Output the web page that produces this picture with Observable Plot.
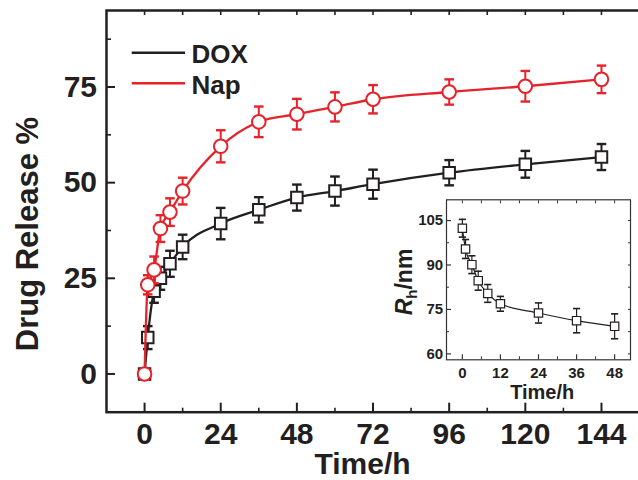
<!DOCTYPE html>
<html><head><meta charset="utf-8">
<script src="https://cdn.jsdelivr.net/npm/d3@7"></script>
<script src="https://cdn.jsdelivr.net/npm/@observablehq/plot@0.6"></script>
<style>
html,body{margin:0;padding:0;background:#fff;}
#wrap{position:relative;width:638px;height:480px;overflow:hidden;font-family:"Liberation Sans",Arial,Helvetica,sans-serif;}
#inset{position:absolute;left:380px;top:190px;}
#legend{position:absolute;left:0;top:0;}
</style></head><body>
<div id="wrap"><div id="main"></div><div id="inset"></div><svg id="legend" width="260" height="110"></svg></div>
<script>
// ---------- data ----------
const times = [0, 1, 3, 5, 8, 12, 24, 36, 48, 60, 72, 96, 120, 144];
const doxRelease = [0, 9.5, 21.6, 25.0, 28.8, 33.2, 39.3, 42.9, 46.1, 47.8, 49.6, 52.6, 54.8, 56.7];
const doxError   = [0, 3.0, 3.0, 3.0, 3.4, 3.2, 4.1, 3.3, 3.4, 3.8, 3.8, 3.3, 3.5, 3.4];
const napRelease = [0, 23.3, 27.2, 38.0, 42.3, 47.8, 59.5, 65.9, 67.9, 69.8, 71.8, 73.7, 75.2, 77.0];
const napError   = [0, 2.5, 3.5, 3.5, 3.6, 3.5, 4.2, 4.0, 4.0, 3.8, 3.7, 3.3, 4.0, 3.6];

const insetTimes  = [0, 1, 3, 5, 8, 12, 24, 36, 48];
const radius      = [102.4, 95.4, 90.1, 84.7, 80.4, 76.9, 73.8, 71.2, 69.3];
const radiusError = [3.0, 3.2, 3.0, 3.2, 3.0, 2.5, 3.4, 4.1, 4.2];

const seriesNames = ["DOX", "Nap"];
const seriesColors = ["#231f20", "#e5232a"];

const xTicks = [0, 24, 48, 72, 96, 120, 144];
const xMinorTicks = [12, 36, 60, 84, 108, 132];
const xTopTicks = [0, 12, 24, 36, 48, 60, 72, 84, 96, 108, 120, 132, 144];
const yTicks = [0, 25, 50, 75];
const yMinorTicks = [12.5, 37.5, 62.5, 87.5];

const insetXTicks = [0, 12, 24, 36, 48];
const insetXMinor = [6, 18, 30, 42];
const insetXTop = [0, 6, 12, 18, 24, 30, 36, 42, 48];
const insetYTicks = [60, 75, 90, 105];
const insetYMinor = [67.5, 82.5, 97.5];
const insetYRight = [60, 67.5, 75, 82.5, 90, 97.5, 105];

// ---------- tables ----------
const dox = times.map((t, i) => ({t, v: doxRelease[i], e: doxError[i]}));
const nap = times.map((t, i) => ({t, v: napRelease[i], e: napError[i]}));
const rh = insetTimes.map((t, i) => ({t, v: radius[i], e: radiusError[i]}));

const cap = {draw(ctx, size) { const w = Math.sqrt(size / Math.PI); ctx.moveTo(-w, 0); ctx.lineTo(w, 0); }};
const FONT = '"Liberation Sans", Arial, Helvetica, sans-serif';
const INK = "#231f20";

function seriesMarks(data, color, symbol, r, capR, lw, sw) {
  const withErr = data.filter(d => d.e > 0);
  return [
    Plot.line(data, {x: "t", y: "v", stroke: color, strokeWidth: lw, curve: "monotone-x"}),
    Plot.ruleX(withErr, {x: "t", y1: d => d.v - d.e, y2: d => d.v + d.e, stroke: color, strokeWidth: sw}),
    Plot.dot(withErr, {x: "t", y: d => d.v + d.e, symbol: cap, r: capR, fill: "none", stroke: color, strokeWidth: sw + 0.4}),
    Plot.dot(withErr, {x: "t", y: d => d.v - d.e, symbol: cap, r: capR, fill: "none", stroke: color, strokeWidth: sw + 0.4}),
    Plot.dot(data, {x: "t", y: "v", symbol, r, fill: "white", stroke: color, strokeWidth: sw})
  ];
}

// ---------- main chart ----------
const main = Plot.plot({
  width: 638, height: 480,
  marginLeft: 106, marginRight: -2, marginTop: 10, marginBottom: 68.3,
  x: {domain: [-12, 156.3], axis: null},
  y: {domain: [-10, 95], axis: null},
  style: {background: "white", fontFamily: FONT, fontWeight: "bold", color: INK, overflow: "visible"},
  marks: [
    Plot.frame({stroke: INK, strokeWidth: 2.5}),
    Plot.axisX({ticks: xTicks, anchor: "bottom", tickSize: 9, dy: -9, fill: "none", label: null, strokeWidth: 2, stroke: INK}),
    Plot.axisX({ticks: xMinorTicks, anchor: "bottom", tickSize: 4, dy: -4, fill: "none", label: null, strokeWidth: 1.6, stroke: INK}),
    Plot.axisX({ticks: xTopTicks, anchor: "top", tickSize: 4, dy: 4, fill: "none", label: null, strokeWidth: 1.6, stroke: INK}),
    Plot.axisY({ticks: yTicks, anchor: "left", tickSize: 9, dx: 9, fill: "none", label: null, strokeWidth: 2, stroke: INK}),
    Plot.axisY({ticks: yMinorTicks, anchor: "left", tickSize: 5, dx: 5, fill: "none", label: null, strokeWidth: 1.6, stroke: INK}),
    Plot.axisX({ticks: xTicks, anchor: "bottom", tickSize: 0, tickPadding: 10, label: null, fontSize: 30, fontWeight: "bold", fill: INK}),
    Plot.axisY({ticks: yTicks, anchor: "left", tickSize: 0, tickPadding: 9.5, label: null, fontSize: 30, fontWeight: "bold", fill: INK}),
    ...seriesMarks(dox, seriesColors[0], "square", 6.5, 4.8, 2.3, 2),
    ...seriesMarks(nap, seriesColors[1], "circle", 6.8, 4.8, 2.3, 2),
    Plot.text(["Time/h"], {text: d => d, frameAnchor: "bottom", textAnchor: "middle", dx: -11, dy: 52.5, lineAnchor: "middle", fontSize: 30, fontWeight: "bold", fill: INK}),
    Plot.text(["Drug Release %"], {text: d => d, frameAnchor: "left", textAnchor: "middle", rotate: -90, dx: -78, dy: 22.7, lineAnchor: "middle", fontSize: 31, fontWeight: "bold", fill: INK})
  ]
});
document.getElementById("main").appendChild(main);

// ---------- inset ----------
const inset = Plot.plot({
  width: 258, height: 220,
  marginLeft: 66, marginRight: 8, marginTop: 9.3, marginBottom: 50.7,
  x: {domain: [-5, 53], axis: null},
  y: {domain: [58, 112], axis: null},
  style: {background: "transparent", fontFamily: FONT, fontWeight: "bold", color: INK, overflow: "visible"},
  marks: [
    Plot.frame({fill: "white", stroke: "#333", strokeWidth: 1.2}),
    Plot.axisX({ticks: insetXTicks, anchor: "bottom", tickSize: 5, dy: -5, fill: "none", label: null, strokeWidth: 1.2, stroke: "#333"}),
    Plot.axisX({ticks: insetXMinor, anchor: "bottom", tickSize: 3, dy: -3, fill: "none", label: null, strokeWidth: 1, stroke: "#333"}),
    Plot.axisX({ticks: insetXTop, anchor: "top", tickSize: 3, dy: 3, fill: "none", label: null, strokeWidth: 1, stroke: "#333"}),
    Plot.axisY({ticks: insetYTicks, anchor: "left", tickSize: 5, dx: 5, fill: "none", label: null, strokeWidth: 1.2, stroke: "#333"}),
    Plot.axisY({ticks: insetYMinor, anchor: "left", tickSize: 3, dx: 3, fill: "none", label: null, strokeWidth: 1, stroke: "#333"}),
    Plot.axisY({ticks: insetYRight, anchor: "right", tickSize: 3, dx: -3, fill: "none", label: null, strokeWidth: 1, stroke: "#333"}),
    ...seriesMarks(rh, INK, "square", 4.7, 3.6, 1.2, 1.2),
    Plot.axisX({ticks: insetXTicks, anchor: "bottom", tickSize: 0, tickPadding: 7.5, label: null, fontSize: 15, fontWeight: "bold", fill: INK}),
    Plot.axisY({ticks: insetYTicks, anchor: "left", tickSize: 0, tickPadding: 3.3, label: null, fontSize: 15, fontWeight: "bold", fill: INK}),
    Plot.text(["Time/h"], {text: d => d, frameAnchor: "bottom", textAnchor: "middle", dx: 3.7, dy: 32.3, lineAnchor: "middle", fontSize: 20, fontWeight: "bold", fill: INK})
  ]
});
document.getElementById("inset").appendChild(inset);

// inset y-axis title with italic R and subscript h
const yt = d3.select(inset).append("text")
  .attr("transform", "translate(32,92) rotate(-90)")
  .attr("text-anchor", "middle")
  .attr("font-family", FONT).attr("font-weight", "bold").attr("font-size", 23).attr("fill", INK);
yt.append("tspan").attr("font-style", "italic").text("R");
yt.append("tspan").attr("font-size", 15).attr("dy", "0.35em").text("h");
yt.append("tspan").attr("dy", "-0.23em").text("/nm");

// ---------- legend ----------
const lg = d3.select("#legend");
const legendRows = seriesNames.map((name, i) => ({name, color: seriesColors[i], y: [52.7, 83.3][i], base: [62.7, 93.5][i]}));
lg.selectAll("line").data(legendRows).join("line")
  .attr("x1", 131.7).attr("x2", 185).attr("y1", d => d.y).attr("y2", d => d.y)
  .attr("stroke", d => d.color).attr("stroke-width", 2.5);
lg.selectAll("text").data(legendRows).join("text")
  .attr("x", 191.5).attr("y", d => d.base)
  .attr("font-family", FONT).attr("font-weight", "bold").attr("font-size", 26).attr("fill", INK)
  .text(d => d.name);
</script>
</body></html>
